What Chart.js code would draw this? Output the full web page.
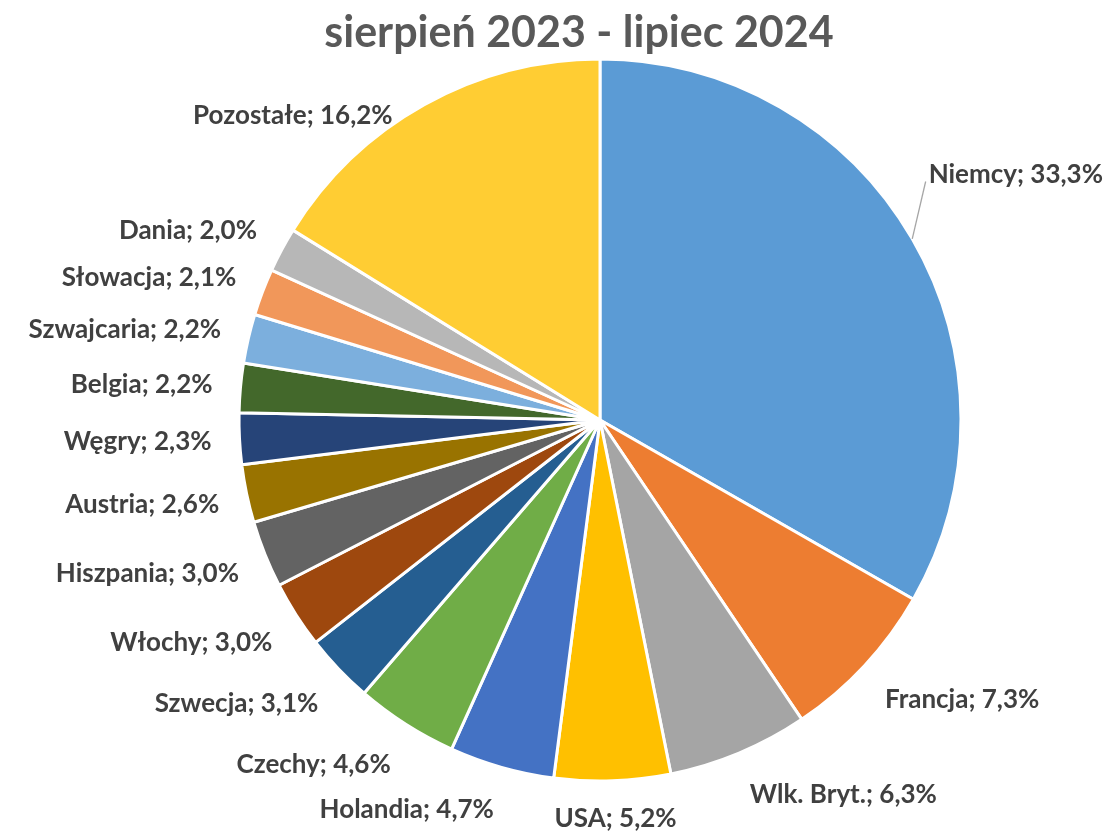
<!DOCTYPE html>
<html>
<head>
<meta charset="utf-8">
<script src="https://cdn.jsdelivr.net/npm/chart.js@4"></script>
<style>
  html, body { margin: 0; padding: 0; background: #fff; }
  #wrap { width: 1109px; height: 833px; position: relative; }
</style>
</head>
<body>
<div id="wrap"><canvas id="pie"></canvas></div>
<script>
const titleText = 'sierpień 2023 - lipiec 2024';
const countries = ['Niemcy', 'Francja', 'Wlk. Bryt.', 'USA', 'Holandia', 'Czechy', 'Szwecja', 'Włochy',
  'Hiszpania', 'Austria', 'Węgry', 'Belgia', 'Szwajcaria', 'Słowacja', 'Dania', 'Pozostałe'];
const shares = [33.3, 7.3, 6.3, 5.2, 4.7, 4.6, 3.1, 3.0, 3.0, 2.6, 2.3, 2.2, 2.2, 2.1, 2.0, 16.2];
const sliceColors = ['#5B9BD5', '#ED7D31', '#A5A5A5', '#FFC000', '#4472C4', '#70AD47', '#255E91', '#9E480E',
  '#636363', '#997300', '#264478', '#43682B', '#7CAFDD', '#F1975A', '#B7B7B7', '#FFCD33'];

const fmt = (v) => v.toFixed(1).replace('.', ',') + '%';

const titlePlugin = {
  id: 'topTitle',
  afterDraw(chart) {
    const ctx = chart.ctx;
    ctx.save();
    ctx.font = 'bold 43px Lato';
    ctx.fillStyle = '#595959';
    ctx.textAlign = 'center';
    ctx.textBaseline = 'middle';
    ctx.fillText(titleText, 579, 33);
    ctx.restore();
  }
};

const labelPlugin = {
  id: 'outLabels',
  afterDatasetsDraw(chart) {
    const ctx = chart.ctx;
    const arcs = chart.getDatasetMeta(0).data;
    ctx.save();
    ctx.font = 'bold 26px Lato';
    ctx.fillStyle = '#404040';
    ctx.textBaseline = 'middle';
    const h = 24;
    arcs.forEach((arc, i) => {
      const { x, y, startAngle, endAngle, outerRadius } = arc.getProps(['x', 'y', 'startAngle', 'endAngle', 'outerRadius'], true);
      const mid = (startAngle + endAngle) / 2;
      const cos = Math.cos(mid), sin = Math.sin(mid);
      const R = outerRadius + 28;
      const text = countries[i] + '; ' + fmt(shares[i]);
      const w = ctx.measureText(text).width;
      let ax = x + R * cos;
      let cy = y + R * sin + sin * h / 2 + (sin > 0 ? 14 * sin * Math.abs(cos) : 0);
      let left;
      if (Math.abs(cos) < 0.1) left = ax - w / 2 + cos * w / 2;
      else if (cos < 0) left = ax - w;
      else left = ax;
      let moved = false;
      // keep label inside canvas on the right, with a leader line
      if (left + w > chart.width - 6) {
        left = chart.width - 6 - w;
        const a = -Math.acos((left - x) / R);
        cy = y + R * Math.sin(a) + Math.sin(a) * h / 2 - 31;
        moved = true;
      }
      // keep label clear of the title and inside the bottom edge
      if (cy - h / 2 < 100) {
        cy = 104 + h / 2;
        left -= 18;
      }
      if (cy + h / 2 > chart.height - 2) cy = chart.height - 2 - h / 2;
      if (moved) {
        ctx.strokeStyle = '#A6A6A6';
        ctx.lineWidth = 1.3;
        ctx.beginPath();
        ctx.moveTo(x + outerRadius * cos, y + outerRadius * sin);
        ctx.lineTo(left - 3, cy + 7);
        ctx.stroke();
      }
      ctx.textAlign = 'left';
      ctx.fillText(text, left, cy);
    });
    ctx.restore();
  }
};

new Chart(document.getElementById('pie'), {
  type: 'pie',
  data: {
    labels: countries,
    datasets: [{
      data: shares,
      backgroundColor: sliceColors,
      borderColor: '#FFFFFF',
      borderWidth: 3
    }]
  },
  options: {
    responsive: true,
    maintainAspectRatio: false,
    animation: false,
    radius: 361,
    layout: { padding: { left: 91, right: 0, top: 7, bottom: 0 } },
    plugins: {
      legend: { display: false },
      title: { display: false },
      tooltip: { enabled: false }
    }
  },
  plugins: [labelPlugin, titlePlugin]
});
</script>
</body>
</html>
